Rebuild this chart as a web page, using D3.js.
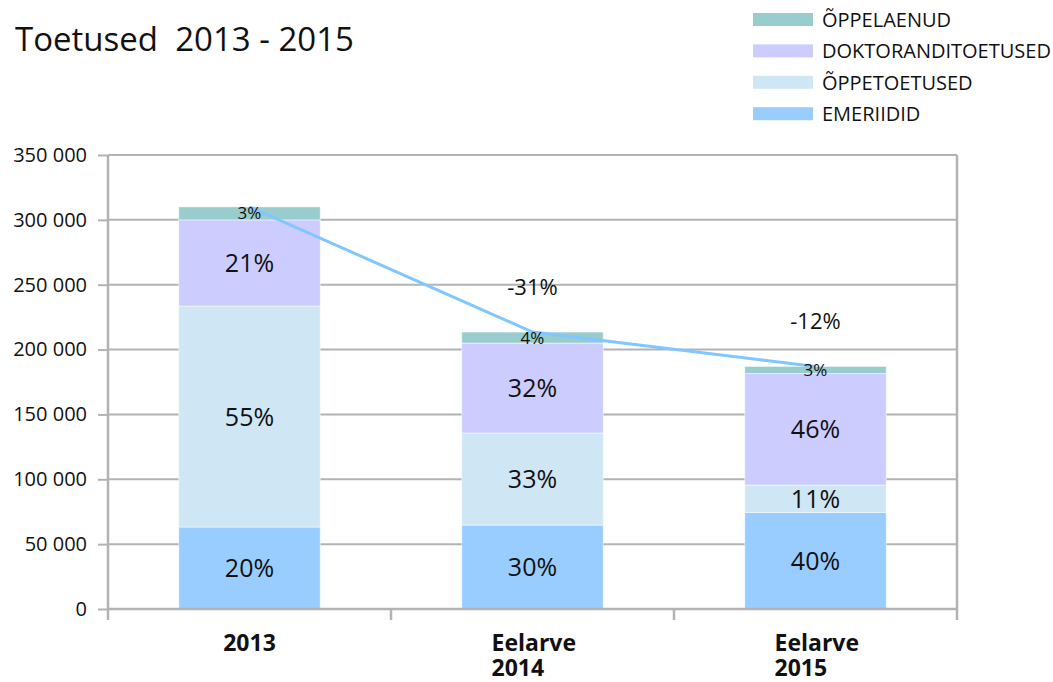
<!DOCTYPE html>
<html><head><meta charset="utf-8">
<script src="https://cdn.jsdelivr.net/npm/d3@7"></script>
<style>
html,body{margin:0;padding:0;background:#fff;}
text{font-family:"Open Sans","Noto Sans",sans-serif;fill:#111;}
</style></head>
<body>
<svg id="chart" width="1053" height="682"></svg>
<script>
const categories = ["2013", "Eelarve 2014", "Eelarve 2015"];
const seriesNames = ["EMERIIDID", "ÕPPETOETUSED", "DOKTORANDITOETUSED", "ÕPPELAENUD"];
const emeriidid = [63200, 64700, 74500];
const oppetoetused = [170400, 71000, 21000];
const doktorandid = [66400, 69300, 86000];
const oppelaenud = [10000, 8500, 5500];
const yTicks = [0, 50000, 100000, 150000, 200000, 250000, 300000, 350000];
const colors = ["#99ccff", "#cfe6f4", "#ccccff", "#99cccc"];

const svg = d3.select("#chart");
const pLeft = 108, pRight = 957, pTop = 155, pBottom = 609;

const x = d3.scaleBand().domain(categories).range([pLeft, pRight]).paddingInner(0.5).paddingOuter(0.25);
const y = d3.scaleLinear().domain([0, 350000]).range([pBottom, pTop]);

// title
svg.append("text").attr("x", 15).attr("y", 51).attr("font-size", 33)
  .style("white-space", "pre").attr("xml:space", "preserve").text("Toetused  2013 - 2015");

// gridlines
svg.append("g").selectAll("line").data(yTicks).join("line")
  .attr("x1", pLeft).attr("x2", pRight).attr("y1", d => y(d)).attr("y2", d => y(d))
  .attr("stroke", "#b3b3b3").attr("stroke-width", 2);

// y axis
const yAxis = d3.axisLeft(y).tickValues(yTicks).tickSize(10).tickPadding(11)
  .tickFormat(d => d3.format(",")(d).replace(/,/g, " "));
const gy = svg.append("g").attr("transform", `translate(${pLeft},0)`).call(yAxis);
gy.select(".domain").remove();
gy.selectAll(".tick line").attr("stroke", "#b3b3b3").attr("stroke-width", 2);
gy.selectAll(".tick text").attr("font-size", 20).attr("fill", "#111")
  .attr("font-family", '"Open Sans","Noto Sans",sans-serif');

// stacked data
const rows = categories.map((c, i) => ({cat: c, v: [emeriidid[i], oppetoetused[i], doktorandid[i], oppelaenud[i]]}));
const stackData = rows.map(r => { const o = {cat: r.cat}; r.v.forEach((v, k) => o["s" + k] = v); return o; });
const keys = ["s0", "s1", "s2", "s3"];
const stacked = d3.stack().keys(keys)(stackData);
const totals = rows.map(r => d3.sum(r.v));

const gBars = svg.append("g");
stacked.forEach((layer, k) => {
  gBars.selectAll(null).data(layer).join("rect")
    .attr("x", d => x(d.data.cat)).attr("width", x.bandwidth())
    .attr("y", d => y(d[1])).attr("height", d => y(d[0]) - y(d[1]))
    .attr("fill", colors[k]).attr("stroke", "#ffffff").attr("stroke-opacity", 0.5).attr("stroke-width", 1);
});

// axes lines
const axisCol = "#b3b3b3";
svg.append("line").attr("x1", pLeft).attr("x2", pRight).attr("y1", pBottom).attr("y2", pBottom).attr("stroke", axisCol).attr("stroke-width", 2.5);
svg.append("line").attr("x1", pLeft).attr("x2", pLeft).attr("y1", pTop).attr("y2", pBottom + 11).attr("stroke", axisCol).attr("stroke-width", 2.5);
svg.append("line").attr("x1", pRight).attr("x2", pRight).attr("y1", pTop).attr("y2", pBottom + 11).attr("stroke", axisCol).attr("stroke-width", 2.5);
svg.append("g").selectAll("line").data(d3.range(1, categories.length)).join("line")
  .attr("x1", i => pLeft + i * (pRight - pLeft) / categories.length)
  .attr("x2", i => pLeft + i * (pRight - pLeft) / categories.length)
  .attr("y1", pBottom).attr("y2", pBottom + 11).attr("stroke", axisCol).attr("stroke-width", 2.5);

// total line
const line = d3.line().x((d, i) => x(categories[i]) + x.bandwidth() / 2).y(d => y(d));
svg.append("path").datum(totals).attr("d", line).attr("fill", "none")
  .attr("stroke", "#80c6ff").attr("stroke-width", 3);

// percent labels
stacked.forEach((layer, k) => {
  layer.forEach((d, i) => {
    const h = y(d[0]) - y(d[1]);
    const pct = Math.round(100 * (d[1] - d[0]) / totals[i]);
    const small = h < 22;
    svg.append("text")
      .attr("x", x(d.data.cat) + x.bandwidth() / 2)
      .attr("y", (y(d[0]) + y(d[1])) / 2)
      .attr("dy", "0.36em")
      .attr("text-anchor", "middle")
      .attr("font-size", small ? 17 : 25)
      .text(pct + "%");
  });
});

// change labels
totals.forEach((t, i) => {
  if (i === 0) return;
  const ch = Math.round(100 * (t / totals[i - 1] - 1));
  svg.append("text")
    .attr("x", x(categories[i]) + x.bandwidth() / 2)
    .attr("y", y(t) - 37)
    .attr("text-anchor", "middle").attr("font-size", 22)
    .text(ch + "%");
});

// x labels
categories.forEach(c => {
  const parts = c.split(" ");
  const cx = x(c) + x.bandwidth() / 2;
  if (parts.length === 1) {
    svg.append("text").attr("font-size", 23).attr("font-weight", "bold")
      .attr("x", cx).attr("y", 651).attr("text-anchor", "middle").text(c);
  } else {
    parts.forEach((p, j) => svg.append("text").attr("font-size", 23).attr("font-weight", "bold")
      .attr("x", cx - 41).attr("y", 651 + j * 25).attr("text-anchor", "start").text(p));
  }
});

// legend (reverse order)
const legendOrder = [3, 2, 1, 0];
legendOrder.forEach((k, r) => {
  const yy = 13 + r * 31.4;
  svg.append("rect").attr("x", 753).attr("y", yy).attr("width", 60).attr("height", 13).attr("fill", colors[k]);
  svg.append("text").attr("x", 822).attr("y", yy + 14).attr("font-size", 20).text(seriesNames[k]);
});
</script>
</body></html>
